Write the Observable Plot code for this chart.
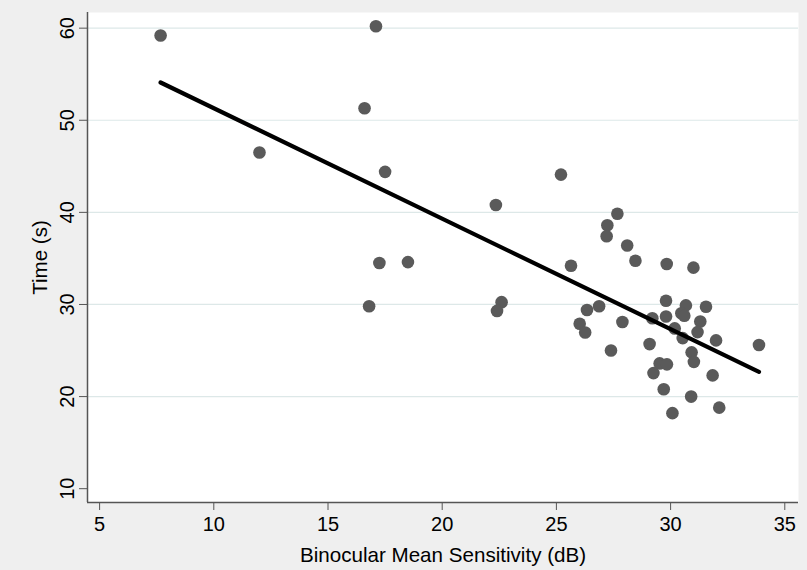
<!DOCTYPE html>
<html><head><meta charset="utf-8">
<script src="https://cdn.jsdelivr.net/npm/d3@7"></script>
<script src="https://cdn.jsdelivr.net/npm/@observablehq/plot@0.6"></script>
<style>html,body{margin:0;padding:0;background:#efefef;}</style>
</head><body><div id="chart"></div>
<script>
// Binocular mean sensitivity (dB)
const sensitivity = [7.67, 17.1, 16.6, 12.0, 17.5, 17.25, 18.5, 16.8, 22.35, 22.6, 22.4, 25.2, 25.64,
  27.67, 27.23, 27.2, 28.1, 28.46, 29.83, 31.0, 26.34, 26.87, 29.8, 30.67, 31.55, 26.02, 26.26,
  27.89, 29.2, 29.8, 30.47, 30.6, 31.3, 30.18, 31.18, 30.53, 31.99, 33.87, 29.08, 27.39, 30.92,
  31.02, 29.52, 29.84, 29.25, 31.84, 29.7, 30.9, 30.08, 32.13];
// Time (s)
const time = [59.2, 60.2, 51.3, 46.5, 44.4, 34.5, 34.6, 29.8, 40.8, 30.25, 29.3, 44.1, 34.2,
  39.85, 38.6, 37.4, 36.4, 34.75, 34.4, 34.0, 29.4, 29.8, 30.4, 29.9, 29.75, 27.9, 26.95,
  28.1, 28.5, 28.7, 29.05, 28.77, 28.15, 27.4, 27.0, 26.35, 26.1, 25.6, 25.7, 25.0, 24.8,
  23.77, 23.6, 23.5, 22.55, 22.3, 20.8, 20.0, 18.2, 18.8];
// Fitted line end points
const fitX = [7.67, 33.87];
const fitY = [54.1, 22.68];
const xTicks = [5, 10, 15, 20, 25, 30, 35];
const yTicks = [10, 20, 30, 40, 50, 60];
const gridTicks = [20, 30, 40, 50, 60];
const xTitle = "Binocular Mean Sensitivity (dB)";
const yTitle = "Time (s)";

const points = sensitivity.map((x, i) => ({x, y: time[i]}));
const fit = fitX.map((x, i) => ({x, y: fitY[i]}));

const chart = Plot.plot({
  width: 807, height: 570,
  marginLeft: 87, marginRight: 9, marginTop: 12, marginBottom: 68,
  style: {background: "#efefef", fontFamily: "'Liberation Sans', Arial, sans-serif", fontSize: "20px", color: "#000"},
  x: {domain: [4.47, 35.6], label: null},
  y: {domain: [8.5, 61.7], label: null},
  marks: [
    Plot.frame({fill: "white", stroke: "none"}),
    Plot.gridY(gridTicks, {stroke: "#dde8e8", strokeOpacity: 1, strokeWidth: 1.2}),
    Plot.axisX(xTicks, {tickSize: 8, tickPadding: 6, stroke: "#555", fill: "#000", fontSize: 20, label: null}),
    Plot.axisY(yTicks, {tickSize: 8, tickPadding: 6, tickRotate: -90, stroke: "#555", fill: "#000", fontSize: 20, label: null}),
    Plot.ruleX([4.47], {stroke: "#555", strokeWidth: 1.5}),
    Plot.ruleY([8.5], {stroke: "#555", strokeWidth: 1.5}),
    Plot.text([xTitle], {text: d => d, frameAnchor: "bottom", dy: 53, lineAnchor: "middle", fontSize: 20.6, fill: "#000"}),
    Plot.text([yTitle], {text: d => d, frameAnchor: "left", dx: -47, rotate: -90, textAnchor: "middle", lineAnchor: "middle", fontSize: 20.6, fill: "#000"}),
    Plot.dot(points, {x: "x", y: "y", r: 6.3, fill: "#5a5a5a", stroke: "none"}),
    Plot.line(fit, {x: "x", y: "y", stroke: "#000", strokeWidth: 4.2})
  ]
});
document.getElementById("chart").appendChild(chart);
</script>
</body></html>
